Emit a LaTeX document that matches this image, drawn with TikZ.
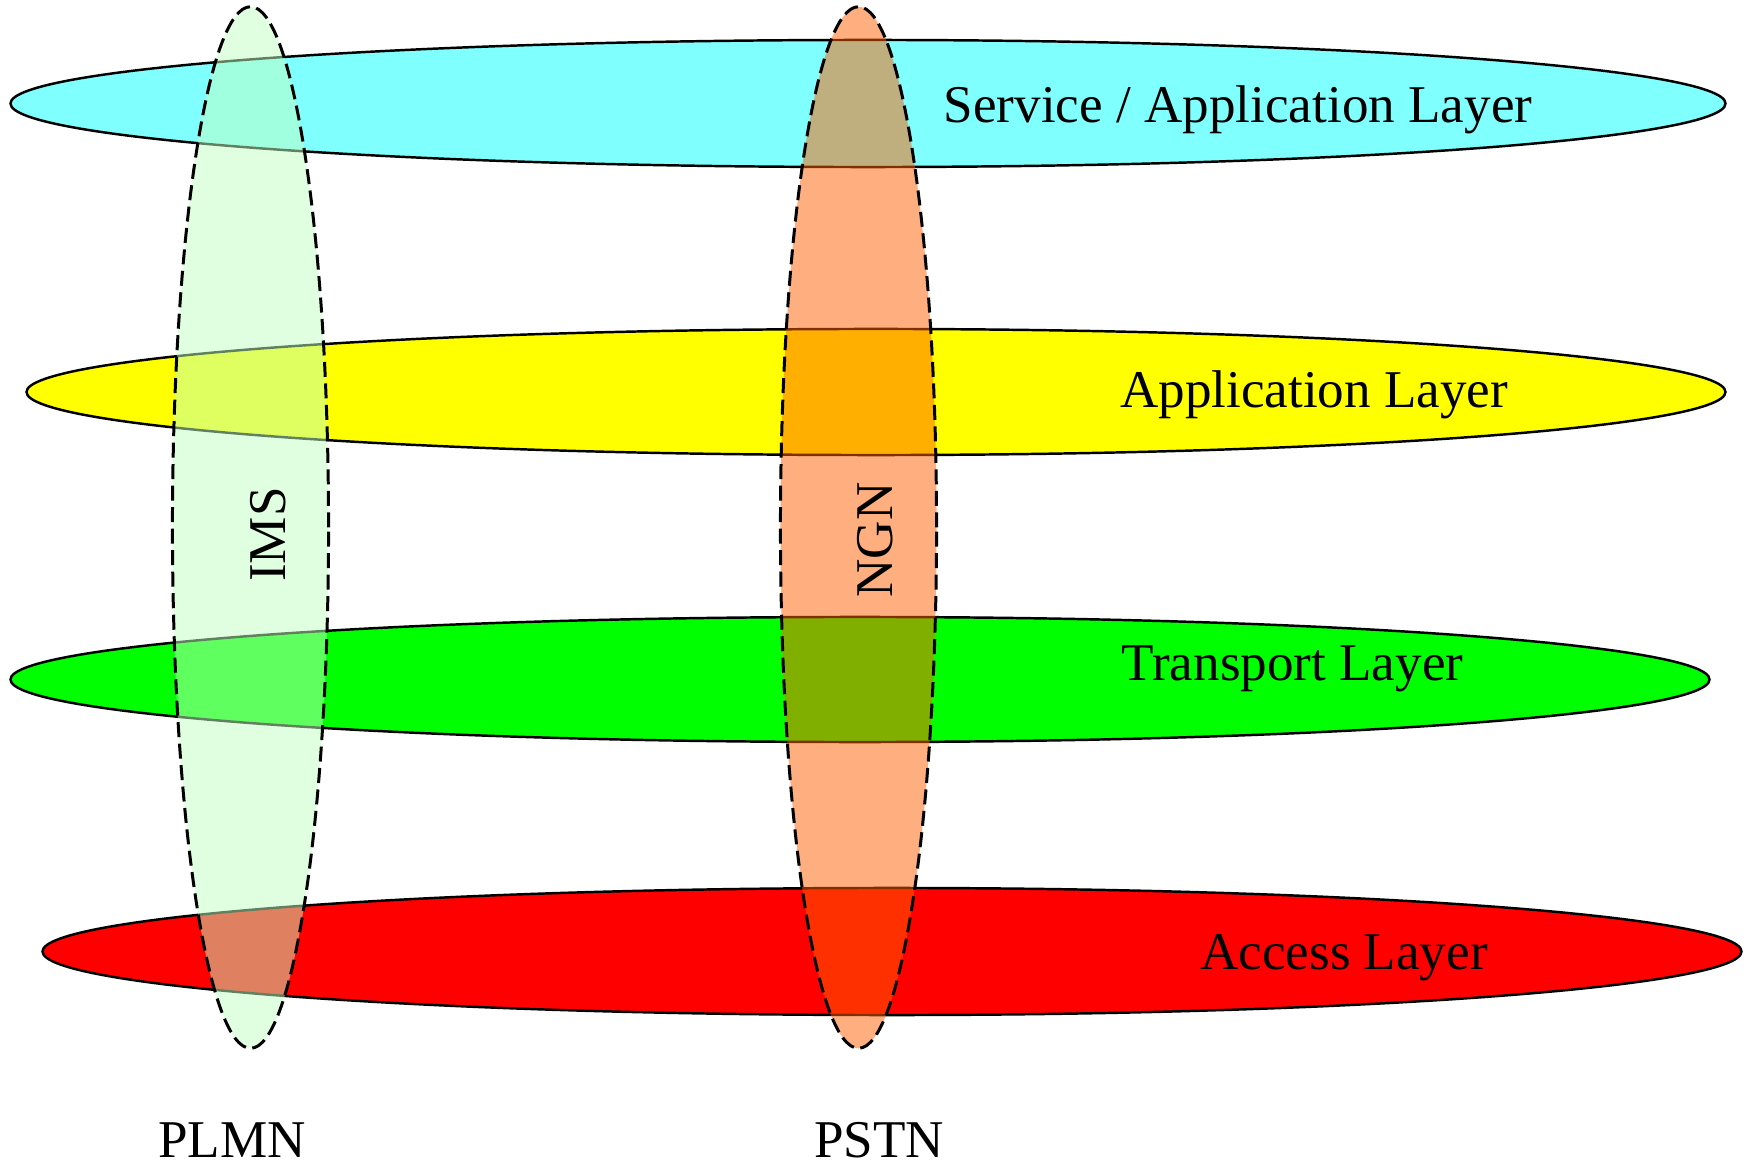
\documentclass[tikz,border=0pt]{standalone}
\usepackage{fontspec}
\setmainfont{Liberation Serif}
\usepackage{tikz}
\usetikzlibrary{shapes.geometric}
\definecolor{svccol}{HTML}{80FFFF}
\definecolor{appcol}{HTML}{FFFF00}
\definecolor{trncol}{HTML}{00FF00}
\definecolor{acccol}{HTML}{FF0000}
\definecolor{imscol}{HTML}{C1FFC1}
\definecolor{ngncol}{HTML}{FF6000}
\tikzset{layer/.style={ellipse, draw=black, line width=0.7pt, inner sep=0pt, minimum height=1.26cm}}
\tikzset{net/.style={ellipse, draw=black, line width=0.85pt, dash pattern=on 0.15cm off 0.065cm, fill opacity=0.5, draw opacity=1, inner sep=0pt, minimum width=1.56cm, minimum height=10.41cm}}
\tikzset{lbl/.style={inner sep=0pt, anchor=base, font=\fontsize{15.1pt}{18pt}\selectfont}}

\begin{document}
\begin{tikzpicture}[x=0.01cm, y=-0.01cm]
\useasboundingbox (0,0) rectangle (1748,1164);
% layers
\node[layer, fill=svccol, minimum width=17.14cm, minimum height=1.27cm] (svc) at (868,103.5) {};
\node[layer, fill=appcol, minimum width=16.98cm] (app) at (876,392) {};
\node[layer, fill=trncol, minimum width=16.98cm, minimum height=1.25cm] (trn) at (860,679.5) {};
\node[layer, fill=acccol, minimum width=16.98cm, minimum height=1.27cm] (acc) at (892,951.5) {};
\node[lbl] (svcT) at (1238,122.5) {Service / Application Layer};
\node[lbl] (appT) at (1314,408) {Application Layer};
\node[lbl] (trnT) at (1292.5,680) {Transport Layer};
\node[lbl] (accT) at (1344,969.5) {Access Layer};
% networks
\node[net, fill=imscol] (ims) at (250.5,527.5) {};
\node[net, fill=ngncol] (ngn) at (858.5,527.5) {};
\node[lbl, rotate=90] (imsT) at (285,534.5) {IMS};
\node[lbl, rotate=90] (ngnT) at (892,540) {NGN};
\node[lbl] (plmn) at (232,1157) {PLMN};
\node[lbl] (pstn) at (879,1157) {PSTN};
\end{tikzpicture}
\end{document}
